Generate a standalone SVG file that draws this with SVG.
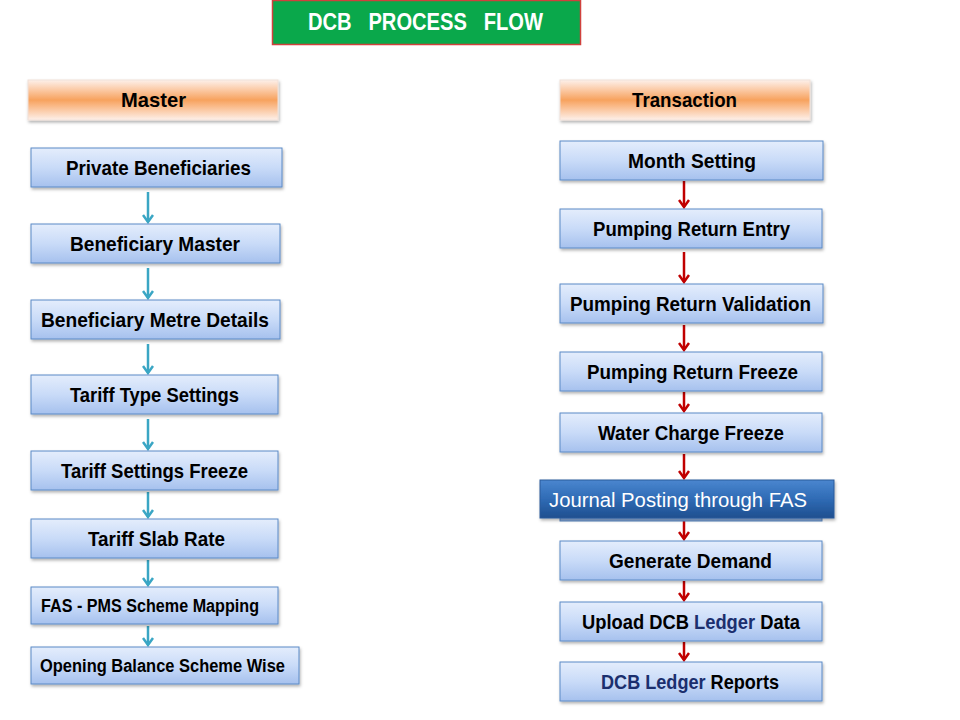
<svg xmlns="http://www.w3.org/2000/svg" width="960" height="720" viewBox="0 0 960 720">
<defs>
<linearGradient id="gBox" x1="0" y1="0" x2="0" y2="1">
<stop offset="0" stop-color="#e4edfc"/>
<stop offset="0.5" stop-color="#c9dbf8"/>
<stop offset="1" stop-color="#a6c1ee"/>
</linearGradient>
<linearGradient id="gHead" x1="0" y1="0" x2="0" y2="1">
<stop offset="0" stop-color="#fdf0ea"/>
<stop offset="0.25" stop-color="#fbc9a4"/>
<stop offset="0.5" stop-color="#f7a25e"/>
<stop offset="0.75" stop-color="#fbc9a4"/>
<stop offset="1" stop-color="#fdf0ea"/>
</linearGradient>
<linearGradient id="gDark" x1="0" y1="0" x2="0" y2="1">
<stop offset="0" stop-color="#4a86cf"/>
<stop offset="0.5" stop-color="#2f6bb5"/>
<stop offset="1" stop-color="#1f4f8f"/>
</linearGradient>
<filter id="sh" x="-5%" y="-10%" width="110%" height="140%">
<feDropShadow dx="1" dy="2" stdDeviation="1.5" flood-color="#000" flood-opacity="0.3"/>
</filter>
<marker id="mBlue" viewBox="0 0 12 12" refX="10" refY="6" markerWidth="12" markerHeight="12" markerUnits="userSpaceOnUse" orient="auto">
<path d="M3 1 L10 6 L3 11" fill="none" stroke="#3aa6c4" stroke-width="2.5"/>
</marker>
<marker id="mRed" viewBox="0 0 12 12" refX="10" refY="6" markerWidth="12" markerHeight="12" markerUnits="userSpaceOnUse" orient="auto">
<path d="M3 1 L10 6 L3 11" fill="none" stroke="#c00000" stroke-width="2.5"/>
</marker>
</defs>
<style>
.box{fill:url(#gBox);stroke:#5b8ac6;stroke-width:1;filter:url(#sh)}
.head{fill:url(#gHead);stroke:#f0e0d8;stroke-width:1;filter:url(#sh)}
.t{font-family:"Liberation Sans",Arial,sans-serif;font-weight:bold;font-size:20.5px;fill:#000;text-anchor:middle}
.nv{fill:#1b2f6e}
.ab{stroke:#3aa6c4;stroke-width:2.5;fill:none;marker-end:url(#mBlue)}
.ar{stroke:#c00000;stroke-width:2.5;fill:none;marker-end:url(#mRed)}
</style>
<rect width="960" height="720" fill="#fff"/>

<g id="title">
<rect x="272.5" y="0.5" width="308" height="44" fill="#0aa84b" stroke="#d0413d" stroke-width="1.5"/>
<text x="425.5" y="30" class="t" style="fill:#fff;font-size:24px;white-space:pre" textLength="235" lengthAdjust="spacingAndGlyphs">DCB   PROCESS   FLOW</text>
</g>

<g id="master">
<rect x="28" y="80" width="250" height="40" class="head"/>
<text x="153.5" y="107" class="t" textLength="65" lengthAdjust="spacingAndGlyphs">Master</text>
</g>
<g id="transaction">
<rect x="560" y="80" width="250" height="40" class="head"/>
<text x="684.5" y="107" class="t" textLength="105" lengthAdjust="spacingAndGlyphs">Transaction</text>
</g>

<g id="connectors">
<line x1="148" y1="192" x2="148" y2="222" class="ab"/>
<line x1="148" y1="268" x2="148" y2="298" class="ab"/>
<line x1="148" y1="344" x2="148" y2="373" class="ab"/>
<line x1="148" y1="419" x2="148" y2="449" class="ab"/>
<line x1="148" y1="492" x2="148" y2="517" class="ab"/>
<line x1="148" y1="560" x2="148" y2="585" class="ab"/>
<line x1="148" y1="626" x2="148" y2="645" class="ab"/>
<line x1="684" y1="181" x2="684" y2="207" class="ar"/>
<line x1="684" y1="252" x2="684" y2="282" class="ar"/>
<line x1="684" y1="325" x2="684" y2="350" class="ar"/>
<line x1="684" y1="392" x2="684" y2="411" class="ar"/>
<line x1="684" y1="454" x2="684" y2="478" class="ar"/>
<line x1="684" y1="520" x2="684" y2="539" class="ar"/>
<line x1="684" y1="581" x2="684" y2="600" class="ar"/>
<line x1="684" y1="642" x2="684" y2="660" class="ar"/>
</g>

<g id="m1"><rect x="31" y="148" width="251" height="39" class="box"/><text x="158.5" y="175" class="t" textLength="185" lengthAdjust="spacingAndGlyphs">Private Beneficiaries</text></g>
<g id="m2"><rect x="31" y="224" width="249" height="39" class="box"/><text x="155" y="251" class="t" textLength="170" lengthAdjust="spacingAndGlyphs">Beneficiary Master</text></g>
<g id="m3"><rect x="31" y="300" width="249" height="39" class="box"/><text x="155" y="327" class="t" textLength="228" lengthAdjust="spacingAndGlyphs">Beneficiary Metre Details</text></g>
<g id="m4"><rect x="31" y="375" width="247" height="39" class="box"/><text x="154.5" y="402" class="t" textLength="169" lengthAdjust="spacingAndGlyphs">Tariff Type Settings</text></g>
<g id="m5"><rect x="31" y="451" width="247" height="39" class="box"/><text x="154.5" y="478" class="t" textLength="187" lengthAdjust="spacingAndGlyphs">Tariff Settings Freeze</text></g>
<g id="m6"><rect x="31" y="519" width="247" height="39" class="box"/><text x="156.5" y="546" class="t" textLength="137" lengthAdjust="spacingAndGlyphs">Tariff Slab Rate</text></g>
<g id="m7"><rect x="31" y="587" width="247" height="37" class="box"/><text x="150" y="612" class="t" style="font-size:18px" textLength="218" lengthAdjust="spacingAndGlyphs">FAS - PMS Scheme Mapping</text></g>
<g id="m8"><rect x="31" y="647" width="268" height="37" class="box"/><text x="162.5" y="672" class="t" style="font-size:18px" textLength="245" lengthAdjust="spacingAndGlyphs">Opening Balance Scheme Wise</text></g>

<g id="t1"><rect x="560" y="141" width="263" height="39" class="box"/><text x="692" y="168" class="t" textLength="128" lengthAdjust="spacingAndGlyphs">Month Setting</text></g>
<g id="t2"><rect x="560" y="209" width="262" height="39" class="box"/><text x="691.5" y="236" class="t" textLength="197" lengthAdjust="spacingAndGlyphs">Pumping Return Entry</text></g>
<g id="t3"><rect x="560" y="284" width="263" height="39" class="box"/><text x="690.5" y="311" class="t" textLength="241" lengthAdjust="spacingAndGlyphs">Pumping Return Validation</text></g>
<g id="t4"><rect x="560" y="352" width="262" height="39" class="box"/><text x="692.5" y="379" class="t" textLength="211" lengthAdjust="spacingAndGlyphs">Pumping Return Freeze</text></g>
<g id="t5"><rect x="560" y="413" width="262" height="39" class="box"/><text x="691" y="440" class="t" textLength="186" lengthAdjust="spacingAndGlyphs">Water Charge Freeze</text></g>
<g id="t6">
<rect x="560" y="500" width="262" height="21" fill="#8fb0e0" stroke="#5b8ac6" stroke-width="1"/>
<rect x="540" y="480" width="294" height="38" fill="url(#gDark)" stroke="#2a5a9a" stroke-width="1" filter="url(#sh)"/>
<text x="678" y="507" class="t" style="fill:#fff;font-weight:normal;font-size:20px" textLength="258" lengthAdjust="spacingAndGlyphs">Journal Posting through FAS</text>
</g>
<g id="t7"><rect x="560" y="541" width="262" height="39" class="box"/><text x="690.5" y="568" class="t" textLength="163" lengthAdjust="spacingAndGlyphs">Generate Demand</text></g>
<g id="t8"><rect x="560" y="602" width="262" height="39" class="box"/><text x="691" y="629" class="t" textLength="218" lengthAdjust="spacingAndGlyphs">Upload DCB <tspan class="nv">Ledger</tspan> Data</text></g>
<g id="t9"><rect x="560" y="662" width="262" height="39" class="box"/><text x="690" y="689" class="t" textLength="178" lengthAdjust="spacingAndGlyphs"><tspan class="nv">DCB Ledger</tspan> Reports</text></g>
</svg>
